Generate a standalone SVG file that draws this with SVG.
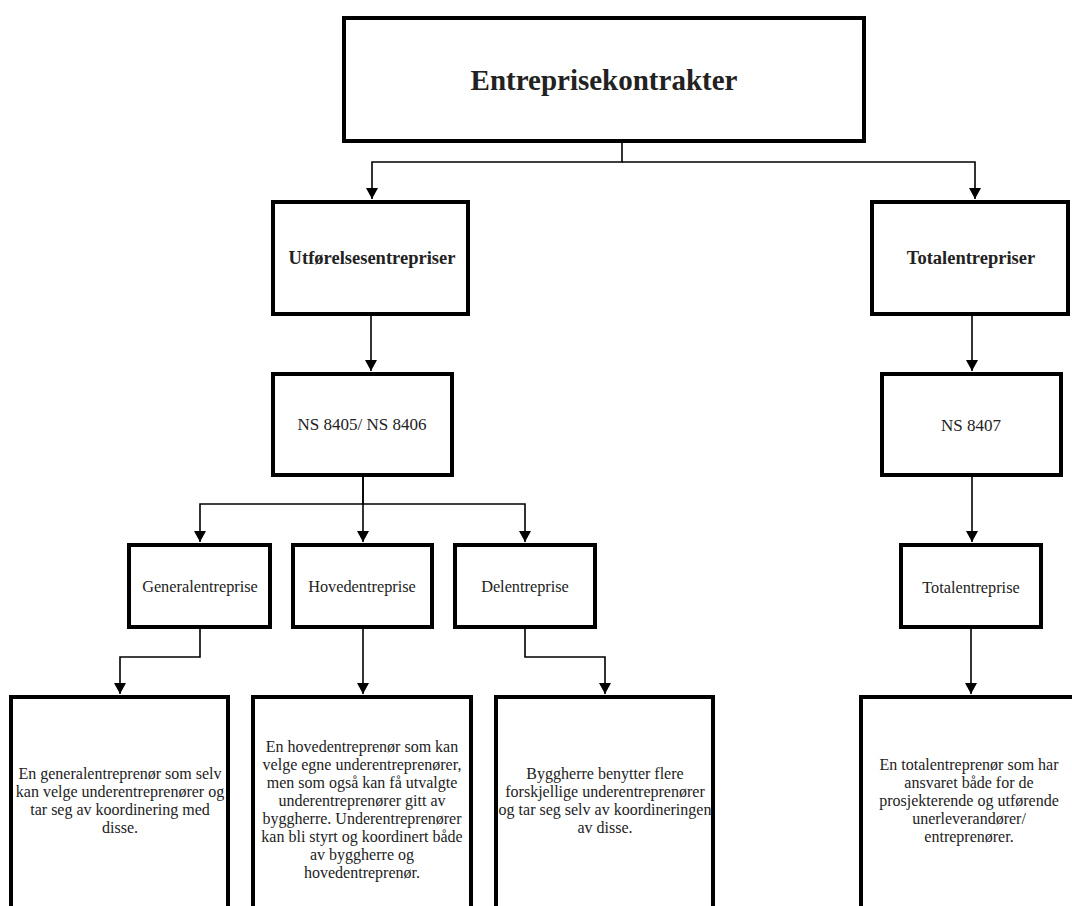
<svg xmlns="http://www.w3.org/2000/svg" width="1072" height="906" viewBox="0 0 1072 906">
<defs>
<marker id="arr" markerUnits="userSpaceOnUse" markerWidth="12" markerHeight="12" refX="11" refY="6" orient="auto">
<path d="M0,0 L11,6 L0,12 z" fill="#000"/>
</marker>
<style>
.box{fill:#fff;stroke:#000;stroke-width:4}
.c{fill:none;stroke:#000;stroke-width:1.6}
text{font-family:"Liberation Serif","DejaVu Serif",serif;fill:#222;text-anchor:middle;dominant-baseline:central}
.t1{font-size:29px;font-weight:bold}
.t2{font-size:18.5px;font-weight:bold}
.t3{font-size:17px}
.t4{font-size:16.3px}
.t5{font-size:16px}
</style>
</defs>
<rect width="1072" height="906" fill="#fff"/>
<g id="connectors">
<path class="c" d="M622,143 V162 H372 V199" marker-end="url(#arr)"/>
<path class="c" d="M622,162 H975 V199" marker-end="url(#arr)"/>
<path class="c" d="M371,316 V371" marker-end="url(#arr)"/>
<path class="c" d="M972,316 V371" marker-end="url(#arr)"/>
<path class="c" d="M363,477 V504 H200 V542" marker-end="url(#arr)"/>
<path class="c" d="M363,477 V542" marker-end="url(#arr)"/>
<path class="c" d="M363,504 H525 V542" marker-end="url(#arr)"/>
<path class="c" d="M972,477 V542" marker-end="url(#arr)"/>
<path class="c" d="M200,629 V657 H120 V694" marker-end="url(#arr)"/>
<path class="c" d="M363,629 V694" marker-end="url(#arr)"/>
<path class="c" d="M525,629 V657 H605 V694" marker-end="url(#arr)"/>
<path class="c" d="M971,629 V694" marker-end="url(#arr)"/>
</g>
<g id="n-top"><rect class="box" x="344" y="18" width="520" height="123"/><text class="t1" x="604" y="80">Entreprisekontrakter</text></g>
<g id="n-utf"><rect class="box" x="273" y="202" width="195" height="112"/><text class="t2" x="372" y="258">Utførelsesentrepriser</text></g>
<g id="n-total"><rect class="box" x="872" y="202" width="196" height="112"/><text class="t2" x="971" y="258">Totalentrepriser</text></g>
<g id="n-ns8405"><rect class="box" x="273" y="374" width="179" height="101"/><text class="t3" x="362" y="424">NS 8405/ NS 8406</text></g>
<g id="n-ns8407"><rect class="box" x="882" y="374" width="179" height="101"/><text class="t3" x="971" y="425">NS 8407</text></g>
<g id="n-gen"><rect class="box" x="129" y="545" width="141" height="82"/><text class="t4" x="200" y="586">Generalentreprise</text></g>
<g id="n-hov"><rect class="box" x="293" y="545" width="139" height="82"/><text class="t4" x="362" y="586">Hovedentreprise</text></g>
<g id="n-del"><rect class="box" x="455" y="545" width="140" height="82"/><text class="t4" x="525" y="586">Delentreprise</text></g>
<g id="n-totalentreprise"><rect class="box" x="901" y="545" width="140" height="82"/><text class="t4" x="971" y="587">Totalentreprise</text></g>
<g id="n-b1"><rect class="box" x="11" y="697" width="217" height="230"/>
<text class="t5" x="120" y="773">En generalentreprenør som selv</text>
<text class="t5" x="120" y="791">kan velge underentreprenører og</text>
<text class="t5" x="120" y="809">tar seg av koordinering med</text>
<text class="t5" x="120" y="827">disse.</text></g>
<g id="n-b2"><rect class="box" x="253" y="697" width="218" height="230"/>
<text class="t5" x="362" y="746">En hovedentreprenør som kan</text>
<text class="t5" x="362" y="764">velge egne underentreprenører,</text>
<text class="t5" x="362" y="782">men som også kan få utvalgte</text>
<text class="t5" x="362" y="800">underentreprenører gitt av</text>
<text class="t5" x="362" y="818">byggherre. Underentreprenører</text>
<text class="t5" x="362" y="836">kan bli styrt og koordinert både</text>
<text class="t5" x="362" y="854">av byggherre og</text>
<text class="t5" x="362" y="872">hovedentreprenør.</text></g>
<g id="n-b3"><rect class="box" x="496" y="697" width="217" height="230"/>
<text class="t5" x="605" y="773">Byggherre benytter flere</text>
<text class="t5" x="605" y="791">forskjellige underentreprenører</text>
<text class="t5" x="605" y="809">og tar seg selv av koordineringen</text>
<text class="t5" x="605" y="827">av disse.</text></g>
<g id="n-b4"><rect class="box" x="861" y="697" width="220" height="230"/>
<text class="t5" x="969" y="764">En totalentreprenør som har</text>
<text class="t5" x="969" y="782">ansvaret både for de</text>
<text class="t5" x="969" y="800">prosjekterende og utførende</text>
<text class="t5" x="969" y="818">unerleverandører/</text>
<text class="t5" x="969" y="836">entreprenører.</text></g>
</svg>
